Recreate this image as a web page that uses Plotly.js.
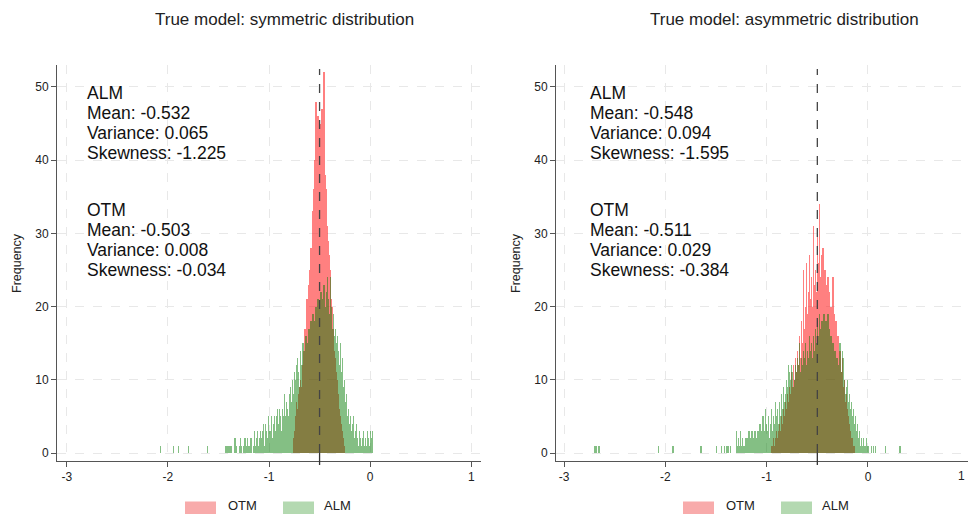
<!DOCTYPE html>
<html>
<head>
<meta charset="utf-8">
<script src="https://cdn.plot.ly/plotly-3.0.1.min.js"></script>
<style>
  html, body { margin: 0; padding: 0; background: #ffffff; }
  #chart { width: 968px; height: 514px; }
</style>
</head>
<body>
<div id="chart"></div>
<script>
// ---------------- DATA ----------------
const panelTitles = ['True model: symmetric distribution', 'True model: asymmetric distribution'];
const seriesNames = ['OTM', 'ALM'];
const binWidth = 0.01;

// Left panel (symmetric) - OTM counts per 0.01 bin, first bin starts at -0.76
const otmSymStart = -0.76;
const otmSymCounts = [2,3,5,7,6,8,9,10,9,12,14,17,16,21,20,23,25,28,27,33,36,40,48,44,46,42,45,43,47,40,52,38,36,31,29,27,25,21,20,17,14,13,11,10,8,6,5,4,3,2,1];

// Left panel (symmetric) - ALM counts per 0.01 bin, first bin starts at -2.08
const almSymStart = -2.08;
const almSymCounts = [
  1, 0,0,0,0,0,0,0,0,0,0,0,0,
  1, 0,0,0,0,
  1, 0,0,0,0,0,0,0,0,0,
  1, 0,0,0,0,0,0,0,0,0,0,0,0,0,0,0,0,0,0,
  1, 0,0,0,0,0,0,0,0,0,0,0,0,0,0,0,0,0,
  1,1,0,1,0,1,0,0,0,2,1,0,0,
  1,2,1,0,1,2,2,1,2,1,
  1,2,2,0,1,3,1,2,3,1,
  2,3,2,3,4,1,4,3,2,5,
  3,3,5,2,4,5,3,5,6,4,
  6,5,3,6,5,8,5,7,6,5,
  8,9,7,10,8,11,10,12,13,11,
  9,14,12,15,13,14,16,15,14,17,
  16,18,17,19,18,17,20,19,21,18,
  20,22,19,21,23,20,22,24,21,19,
  24,20,17,19,16,17,15,16,14,12,
  15,11,13,9,10,7,8,5,6,4,
  5,3,4,5,2,3,4,2,1,3,
  2,1,2,3,1,2,1,3,2,1,
  3,2,3
];

// Right panel (asymmetric) - OTM counts per 0.01 bin, first bin starts at -0.96
const otmAsymStart = -0.96;
const otmAsymCounts = [1,1,2,1,2,3,2,3,4,3,5,4,6,5,7,6,8,7,9,8,11,9,12,10,13,11,14,12,16,13,18,15,25,17,20,26,19,22,27,21,24,20,31,23,25,22,30,26,34,24,27,28,21,25,23,19,24,22,18,20,17,24,19,15,18,13,16,12,14,11,13,9,10,7,8,6,5,4,3,2,2,1,1];

// Right panel (asymmetric) - ALM counts per 0.01 bin, first bin starts at -2.70
const almAsymStart = -2.70;
const almAsymCounts = [
  1,1,0,0,1,
  0,0,0,0,0,0,0,0,0,0, 0,0,0,0,0,0,0,0,0,0, 0,0,0,0,0,0,0,0,0,0,
  0,0,0,0,0,0,0,0,0,0, 0,0,0,0,0,0,0,0,0,0, 0,0,0,0,0,0,0,0,
  1, 0,0,0,0,0,0,0,0,0,0,0,0,0,
  1, 0,0,0,0,0,0,0,0,0,0,0,0,0,0,0,0,0,0,0,0,0,0,0,0,0,0,
  1,1, 0,0,0,0,0,0,0,0,0,0,0,0,0,0,
  1, 0,0,0,0,
  1,0,0,1,0,1,1,1,0,1,0,0,0,0,0,
  3,1,2,1,3,1,2,1,0,2,
  1,2,3,1,2,3,1,2,3,2,
  1,3,2,4,2,3,5,3,6,4,
  3,5,2,4,6,3,5,4,7,5,
  6,4,7,5,8,6,9,7,8,10,
  9,12,11,10,12,11,9,10,12,11,
  13,12,15,11,13,12,14,13,15,12,
  14,13,16,14,15,13,16,14,17,15,
  18,16,19,17,18,16,19,17,18,16,
  19,17,15,16,14,15,13,14,12,13,
  11,12,15,11,14,13,10,8,9,10,
  7,8,6,7,5,6,4,5,3,4,
  2,3,1,2,1,2,1,1,2,1,
  1,0,0,1,0,1,0,1,0,0,
  0,0,0,0,0,0,0,1,0,0,
  0,0,0,0,0,0,0,0,0,0,0,1
];

const statsSym = {
  alm: ['ALM', 'Mean: -0.532', 'Variance: 0.065', 'Skewness: -1.225'],
  otm: ['OTM', 'Mean: -0.503', 'Variance: 0.008', 'Skewness: -0.034']
};
const statsAsym = {
  alm: ['ALM', 'Mean: -0.548', 'Variance: 0.094', 'Skewness: -1.595'],
  otm: ['OTM', 'Mean: -0.511', 'Variance: 0.029', 'Skewness: -0.384']
};
const trueValue = -0.5;
const xTicks = [-3, -2, -1, 0, 1];
const xTickText = ['-3', '-2', '-1', '0', '1'];
const yTicks = [0, 10, 20, 30, 40, 50];
const yTickText = ['0', '10', '20', '30', '40', '50'];

// ---------------- STYLE ----------------
const W = 968, H = 514;
const px = x => x / W;
const py = y => 1 - y / H;
const FONT = 'Liberation Sans, Arial, Helvetica, sans-serif';
const otmColor = '#ff1a1a';
const almColor = '#007a00';
const otmOpacity = 0.55;
const almOpacity = 0.48;
const otmSwatch = '#f8abab';
const almSwatch = '#b4d9b1';

function centers(start, counts) {
  return counts.map((_, i) => +(start + (i + 0.5) * binWidth).toFixed(4));
}
function barTrace(start, counts, color, op, xa, ya, name) {
  return {
    type: 'bar', name: name,
    x: centers(start, counts), y: counts, width: binWidth * 1.25,
    opacity: op,
    marker: { color: color, line: { width: 0 } },
    xaxis: xa, yaxis: ya, showlegend: false, hoverinfo: 'skip'
  };
}

const traces = [
  barTrace(otmSymStart, otmSymCounts, otmColor, otmOpacity, 'x', 'y', seriesNames[0]),
  barTrace(almSymStart, almSymCounts, almColor, almOpacity, 'x', 'y', seriesNames[1]),
  barTrace(otmAsymStart, otmAsymCounts, otmColor, otmOpacity, 'x2', 'y2', seriesNames[0]),
  barTrace(almAsymStart, almAsymCounts, almColor, almOpacity, 'x2', 'y2', seriesNames[1])
];

function xAxis(domain, range, anchor) {
  return {
    domain: domain, range: range, anchor: anchor,
    tickvals: xTicks, ticktext: xTickText,
    showline: true, linecolor: '#555', linewidth: 1,
    ticks: 'outside', ticklen: 5, tickcolor: '#555', tickwidth: 1,
    showgrid: true, gridcolor: '#e8e8e8', griddash: 'dash', gridwidth: 1,
    zeroline: false, tickfont: { family: FONT, size: 12, color: '#222' },
    fixedrange: true
  };
}
function yAxis(anchor) {
  return {
    domain: [py(461), py(65)], range: [-1.093, 53.0], anchor: anchor,
    tickvals: yTicks, ticktext: yTickText,
    showline: true, linecolor: '#555', linewidth: 1,
    ticks: 'outside', ticklen: 5, tickcolor: '#555', tickwidth: 1,
    showgrid: true, gridcolor: '#e8e8e8', griddash: 'dash', gridwidth: 1,
    zeroline: false, tickfont: { family: FONT, size: 12, color: '#222' },
    fixedrange: true
  };
}

const annotations = [];
const shapes = [];

// titles
[[284, panelTitles[0]], [784, panelTitles[1]]].forEach(([cx, t]) => {
  annotations.push({ xref: 'paper', yref: 'paper', x: px(cx), y: py(20),
    xanchor: 'center', yanchor: 'middle', showarrow: false, text: t,
    font: { family: FONT, size: 17, color: '#222' } });
});
// y titles
[17, 516].forEach(cx => {
  annotations.push({ xref: 'paper', yref: 'paper', x: px(cx), y: py(263),
    xanchor: 'center', yanchor: 'middle', showarrow: false, text: 'Frequency',
    textangle: -90, font: { family: FONT, size: 12.5, color: '#222' } });
});
// stats blocks
function statBlock(leftPx, stats) {
  const almY = [93, 113, 133, 153];
  const otmY = [210, 230, 250, 270];
  stats.alm.forEach((t, i) => annotations.push({ xref: 'paper', yref: 'paper', x: px(leftPx), y: py(almY[i]),
    xanchor: 'left', yanchor: 'middle', showarrow: false, text: t, font: { family: FONT, size: 17.5, color: '#111' } }));
  stats.otm.forEach((t, i) => annotations.push({ xref: 'paper', yref: 'paper', x: px(leftPx), y: py(otmY[i]),
    xanchor: 'left', yanchor: 'middle', showarrow: false, text: t, font: { family: FONT, size: 17.5, color: '#111' } }));
}
statBlock(84.5, statsSym);
statBlock(587.5, statsAsym);

// "1" tick label at the right edge of the right panel
annotations.push({ xref: 'paper', yref: 'paper', x: px(967), y: py(476),
  xanchor: 'right', yanchor: 'middle', showarrow: false, text: '1',
  font: { family: FONT, size: 12, color: '#222' } });

// true-value dashed lines
[['x', 'y'], ['x2', 'y2']].forEach(([xa, ya]) => {
  shapes.push({ type: 'line', xref: xa, yref: ya, x0: trueValue, x1: trueValue, y0: 0, y1: 52.46,
    line: { color: '#444', width: 1.3, dash: 'dash' } });
  shapes.push({ type: 'line', xref: xa, yref: 'paper', x0: trueValue, x1: trueValue, y0: py(453), y1: py(465),
    line: { color: '#333', width: 1.3 } });
});

// manual legends
function legend(redX, otmTextX, greenX, almTextX) {
  shapes.push({ type: 'rect', xref: 'paper', yref: 'paper', x0: px(redX), x1: px(redX + 31), y0: py(516), y1: py(501.5),
    fillcolor: otmSwatch, line: { width: 0 } });
  shapes.push({ type: 'rect', xref: 'paper', yref: 'paper', x0: px(greenX), x1: px(greenX + 31), y0: py(516), y1: py(501.5),
    fillcolor: almSwatch, line: { width: 0 } });
  annotations.push({ xref: 'paper', yref: 'paper', x: px(otmTextX), y: py(505.5), xanchor: 'left', yanchor: 'middle',
    showarrow: false, text: seriesNames[0], font: { family: FONT, size: 13, color: '#222' } });
  annotations.push({ xref: 'paper', yref: 'paper', x: px(almTextX), y: py(505.5), xanchor: 'left', yanchor: 'middle',
    showarrow: false, text: seriesNames[1], font: { family: FONT, size: 13, color: '#222' } });
}
legend(185, 225.5, 283, 321.5);
legend(683, 723.5, 781, 819.5);

const layout = {
  width: W, height: H,
  margin: { l: 0, r: 0, t: 0, b: 0, pad: 0 },
  paper_bgcolor: '#ffffff', plot_bgcolor: '#ffffff',
  barmode: 'overlay', bargap: 0,
  showlegend: false,
  font: { family: FONT, color: '#222' },
  xaxis: xAxis([px(57), px(481)], [-3.096, 1.096], 'y'),
  yaxis: yAxis('x'),
  xaxis2: xAxis([px(556), 1], [-3.079, 0.987], 'y2'),
  yaxis2: yAxis('x2'),
  annotations: annotations,
  shapes: shapes
};

Plotly.newPlot('chart', traces, layout, { staticPlot: true, displayModeBar: false });
</script>
</body>
</html>
